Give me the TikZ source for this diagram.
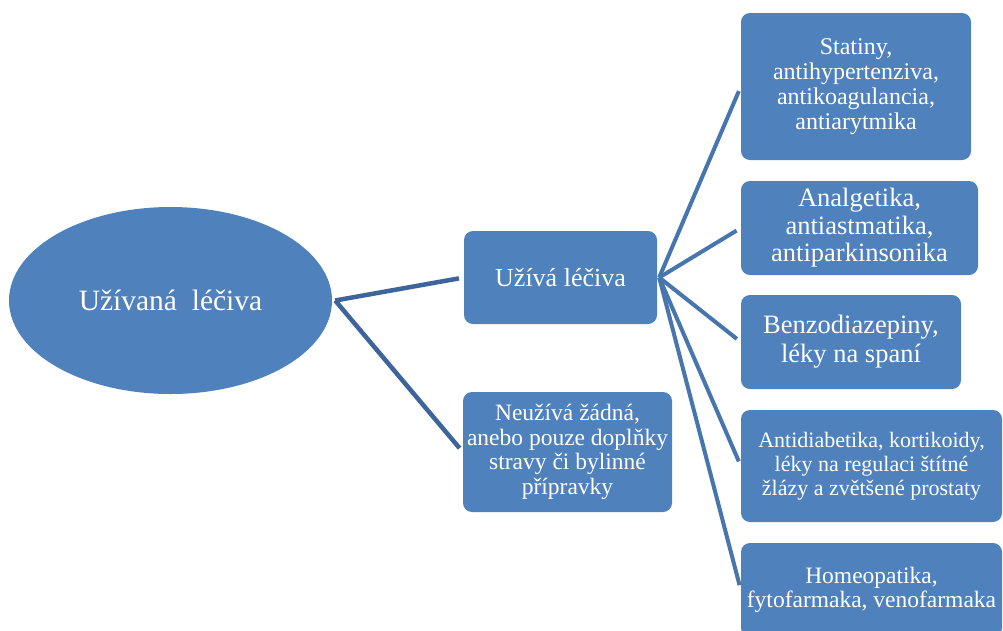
\documentclass[tikz,border=0pt]{standalone}
\usepackage{fontspec}
\setmainfont{Liberation Serif}
\usetikzlibrary{shapes.geometric}
\definecolor{boxblue}{HTML}{4F81BD}
\definecolor{linkdark}{HTML}{3D659B}
\definecolor{linkblue}{HTML}{4775AE}
\begin{document}
\begin{tikzpicture}[x=1pt,y=-1pt,
  box/.style={fill=boxblue,draw=none,rounded corners=9pt,text=white,
    align=center,inner sep=2pt},
  hublink/.style={draw=linkdark,line width=4.5pt,shorten >=5pt},
  leaflink/.style={draw=linkblue,line width=4pt,shorten >=5pt}]
\clip (0,0) rectangle (1003,630);
\fill[white] (0,0) rectangle (1003,630);

% root
\node[ellipse,fill=boxblue,text=white,inner sep=0pt,
  minimum width=323pt,minimum height=187pt,
  font=\fontsize{29.5}{31}\selectfont] (root) at (170.5,300.5)
  {Užívaná\ \ léčiva};

% second level
\node[box,minimum width=193pt,minimum height=93pt,
  font=\fontsize{26}{28}\selectfont] (uses) at (560.5,277.5) {Užívá léčiva};
\node[box,minimum width=209pt,minimum height=120pt,
  font=\fontsize{23.5}{24.5}\selectfont] (none) at (567.5,452)
  {Neužívá žádná,\\anebo pouze doplňky\\stravy či bylinné\\přípravky};

% drug groups
\node[box,minimum width=230pt,minimum height=147pt,
  font=\fontsize{24}{25}\selectfont] (g1) at (856,86.5)
  {Statiny,\\antihypertenziva,\\antikoagulancia,\\antiarytmika};
\node[box,minimum width=237pt,minimum height=94pt,
  font=\fontsize{26.5}{27.5}\selectfont] (g2) at (859.5,228)
  {Analgetika,\\antiastmatika,\\antiparkinsonika};
\node[box,minimum width=220pt,minimum height=94pt,
  font=\fontsize{26.5}{29}\selectfont] (g3) at (851,342)
  {Benzodiazepiny,\\léky na spaní};
\node[box,minimum width=261pt,minimum height=112pt,
  font=\fontsize{22}{24}\selectfont] (g4) at (871.5,466)
  {Antidiabetika, kortikoidy,\\léky na regulaci štítné\\žlázy a zvětšené prostaty};
\node[box,minimum width=261pt,minimum height=94pt,
  font=\fontsize{23.5}{24}\selectfont] (g5) at (871.5,590)
  {Homeopatika,\\fytofarmaka, venofarmaka};

% connectors
\coordinate (rootout) at ([xshift=3pt]root.east);
\coordinate (usesout) at ([xshift=2pt]uses.east);
\draw[hublink] (rootout) -- (uses.west);
\draw[hublink] (rootout) -- (none.west);
\foreach \g in {g1,g2,g3,g4,g5}
  \draw[leaflink] (usesout) -- (\g.west);
\end{tikzpicture}
\end{document}
